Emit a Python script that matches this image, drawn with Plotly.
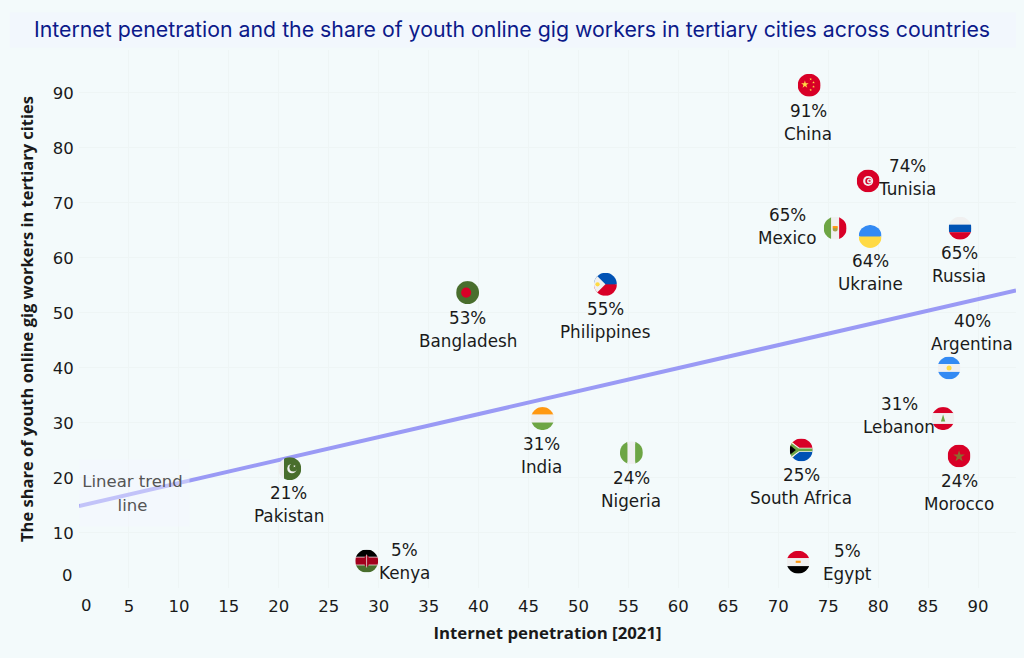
import base64
import plotly.graph_objects as go

countries = ["China", "Tunisia", "Mexico", "Ukraine", "Russia", "Bangladesh", "Philippines", "Argentina",
             "Lebanon", "Morocco", "India", "Nigeria", "South Africa", "Pakistan", "Kenya", "Egypt"]
penetration = [73.1, 79.0, 75.7, 79.2, 88.2, 38.9, 52.7, 87.1, 86.5, 88.1, 46.4, 55.3, 72.3, 21.1, 28.8, 72.0]
gig_share = [91.4, 74.0, 65.4, 63.9, 65.4, 53.7, 55.2, 40.0, 30.8, 24.0, 30.8, 24.6, 25.1, 21.7, 4.9, 4.7]
share_labels = ["91%", "74%", "65%", "64%", "65%", "53%", "55%", "40%", "31%", "24%", "31%", "24%", "25%", "21%", "5%", "5%"]
base_colors = ["#d80027", "#d80027", "#f0f0f0", "#338af3", "#f0f0f0", "#496e2d", "#0052b4", "#f0f0f0",
               "#f0f0f0", "#d80027", "#f0f0f0", "#6da544", "#6da544", "#496e2d", "#a2001d", "#f0f0f0"]
trend_x = [0, 93.8]
trend_y = [14.9, 54.1]
x_ticks = [5, 10, 15, 20, 25, 30, 35, 40, 45, 50, 55, 60, 65, 70, 75, 80, 85, 90]
y_ticks = [10, 20, 30, 40, 50, 60, 70, 80, 90]

# where each label block sits relative to its flag, in pixels (right, down)
label_offset = {
    "China": (-1, 37), "Tunisia": (39, -3), "Mexico": (-48, -2), "Ukraine": (0, 36), "Russia": (-1, 36),
    "Bangladesh": (0, 37), "Philippines": (0, 36), "Argentina": (23, -35), "Lebanon": (-44, -3),
    "Morocco": (0, 37), "India": (-1, 37), "Nigeria": (0, 37), "South Africa": (0, 37), "Pakistan": (-1, 36),
    "Kenya": (38, 0), "Egypt": (49, 0),
}

WHITE = "#f0f0f0"
RED = "#d80027"
GREEN = "#6da544"
DARK = "#496e2d"
BLUE = "#338af3"


def star(cx, cy, r, color):
    pts = []
    for dx, dy in [(0, -1), (.225, -.309), (.951, -.309), (.363, .118), (.588, .809),
                   (0, .382), (-.588, .809), (-.363, .118), (-.951, -.309), (-.225, -.309)]:
        pts.append(f"{cx + dx * r:.1f},{cy + dy * r:.1f}")
    return f'<polygon points="{" ".join(pts)}" fill="{color}"/>'


def rect(x, y, w, h, color):
    return f'<rect x="{x}" y="{y}" width="{w}" height="{h}" fill="{color}"/>'


def circle(cx, cy, r, color):
    return f'<circle cx="{cx}" cy="{cy}" r="{r}" fill="{color}"/>'


flags = {
    "China": rect(0, 0, 64, 64, RED) + star(20, 30, 11, "#ffda44") + star(36, 15, 4, "#ffda44")
    + star(44, 24, 4, "#ffda44") + star(44, 36, 4, "#ffda44") + star(36, 45, 4, "#ffda44"),
    "Tunisia": rect(0, 0, 64, 64, RED) + circle(32, 32, 14, WHITE) + circle(33, 32, 9, RED)
    + circle(36, 32, 7, WHITE) + star(36, 32, 5, RED),
    "Mexico": rect(0, 0, 21, 64, GREEN) + rect(21, 0, 22, 64, WHITE) + rect(43, 0, 21, 64, RED)
    + circle(32, 34, 7, "#a8a04a") + rect(25, 26, 14, 6, "#ff9811"),
    "Ukraine": rect(0, 0, 64, 32, BLUE) + rect(0, 32, 64, 32, "#ffda44"),
    "Russia": rect(0, 0, 64, 22, WHITE) + rect(0, 22, 64, 21, "#0052b4") + rect(0, 43, 64, 21, RED),
    "Bangladesh": rect(0, 0, 64, 64, DARK) + circle(28, 32, 14, RED),
    "Philippines": rect(0, 0, 64, 32, "#0052b4") + rect(0, 32, 64, 32, RED)
    + '<polygon points="0,0 32,32 0,64" fill="#f0f0f0"/>' + circle(10, 32, 6, "#ffda44"),
    "Argentina": rect(0, 0, 64, 21, BLUE) + rect(0, 21, 64, 22, WHITE) + rect(0, 43, 64, 21, BLUE)
    + circle(32, 32, 7, "#ffda44"),
    "Lebanon": rect(0, 0, 64, 17, RED) + rect(0, 17, 64, 30, WHITE) + rect(0, 47, 64, 17, RED)
    + '<polygon points="32,21 38,40 26,40" fill="#6da544"/>',
    "Morocco": rect(0, 0, 64, 64, RED) + star(32, 33, 17, "#8a6d2f"),
    "India": rect(0, 0, 64, 21, "#ff9811") + rect(0, 21, 64, 22, WHITE) + rect(0, 43, 64, 21, GREEN),
    "Nigeria": rect(0, 0, 21, 64, GREEN) + rect(21, 0, 22, 64, WHITE) + rect(43, 0, 21, 64, GREEN),
    "South Africa": rect(0, 0, 64, 32, RED) + rect(0, 32, 64, 32, "#0052b4")
    + '<polygon points="0,0 26,32 0,64" fill="#ffda44"/>'
    + '<path d="M0,6 L27,26 H64 V38 H27 L0,58 Z" fill="#f0f0f0"/>'
    + '<path d="M0,10 L25,28 H64 V36 H25 L0,54 Z" fill="#6da544"/>'
    + '<polygon points="0,18 17,32 0,46" fill="#000"/>',
    "Pakistan": rect(0, 0, 16, 64, WHITE) + rect(16, 0, 48, 64, DARK) + circle(38, 32, 13, WHITE)
    + circle(42, 29, 11, DARK) + star(45, 25, 4, WHITE),
    "Kenya": rect(0, 0, 64, 21, "#000") + rect(0, 21, 64, 22, "#a2001d") + rect(0, 43, 64, 21, DARK)
    + rect(0, 20, 64, 2, WHITE) + rect(0, 42, 64, 2, WHITE)
    + '<ellipse cx="32" cy="32" rx="7" ry="17" fill="#a2001d"/>' + rect(31, 14, 2, 36, WHITE),
    "Egypt": rect(0, 0, 64, 21, RED) + rect(0, 21, 64, 22, WHITE) + rect(0, 43, 64, 21, "#000")
    + rect(25, 28, 14, 6, "#ff9811"),
}


def flag_uri(name):
    svg = ('<svg xmlns="http://www.w3.org/2000/svg" width="64" height="64" viewBox="0 0 64 64">'
           '<defs><clipPath id="c"><circle cx="32" cy="32" r="32"/></clipPath></defs>'
           f'<g clip-path="url(#c)">{flags[name]}</g></svg>')
    return "data:image/svg+xml;base64," + base64.b64encode(svg.encode()).decode()


text_font = "DejaVu Sans"
bold_font = "Open Sans"

fig = go.Figure()

fig.add_trace(go.Scatter(
    x=trend_x,
    y=trend_y,
    mode="lines",
    line=dict(color="#9a9af5", width=4),
    name="Linear trend line",
    showlegend=False,
))

fig.add_trace(go.Scatter(
    x=penetration,
    y=gig_share,
    mode="markers",
    marker=dict(size=20, color=base_colors),
    text=countries,
    showlegend=False,
))

# flags sit on top of the markers, placed by the data axes
images = []
for name, px, py in zip(countries, penetration, gig_share):
    images.append(dict(
        source=flag_uri(name), xref="x", yref="y", x=px, y=py,
        sizex=2.3, sizey=4.2, xanchor="center", yanchor="middle",
        sizing="contain", layer="above",
    ))

annotations = []
for name, px, py, share in zip(countries, penetration, gig_share, share_labels):
    dx, dy = label_offset[name]
    for txt, shift in ((share, -11.5), (name, 11.5)):
        annotations.append(dict(
            x=px, y=py, xref="x", yref="y", text=txt, showarrow=False,
            xshift=dx, yshift=-(dy + shift),
            font=dict(family=text_font, size=16.8, color="#1a1a1a"),
        ))

# trend line caption: a pale box that washes out the line, then the two lines of text
annotations.append(dict(
    x=0, y=17.3, xref="x", yref="y", xanchor="left", showarrow=False, width=107, height=64,
    text=" ", bgcolor="rgba(243,247,254,0.45)",
))
for txt, shift in (("Linear trend", 11), ("line", -13)):
    annotations.append(dict(
        x=0, y=17.3, xref="x", yref="y", xanchor="left", xshift=-2, yshift=shift, showarrow=False, width=107,
        text=txt, align="center", font=dict(family=text_font, size=16.5, color="#555555"),
    ))

# the two zero labels sit off their gridlines, clear of the axis corner
annotations.append(dict(x=0, y=0, xref="x", yref="paper", text="0", showarrow=False, yanchor="top",
                        xshift=7, yshift=-6, font=dict(family=text_font, size=16.5, color="#1a1a1a")))
annotations.append(dict(x=0, y=0, xref="paper", yref="y", text="0", showarrow=False, xanchor="right",
                        xshift=-4, yshift=13, font=dict(family=text_font, size=16.5, color="#1a1a1a")))

fig.update_layout(
    width=1024,
    height=658,
    margin=dict(l=79, r=8, t=50, b=70),
    paper_bgcolor="#f3fafb",
    plot_bgcolor="#f3fafb",
    hovermode="closest",
    title=dict(
        text="Internet penetration and the share of youth online gig workers in tertiary cities across countries",
        x=0.5, xanchor="center", y=0.955, yanchor="middle",
        font=dict(family="Inter", size=21.3, color="#0c1a8a"),
    ),
    xaxis=dict(
        range=[0, 93.8],
        tickmode="array",
        tickvals=x_ticks,
        ticks="outside",
        ticklen=3,
        tickcolor="rgba(0,0,0,0)",
        tickfont=dict(family=text_font, size=16.5, color="#1a1a1a"),
        showgrid=True,
        gridcolor="#eef5f5",
        zeroline=False,
        title=dict(text="<b>Internet penetration [2021]</b>", standoff=12,
                   font=dict(family=bold_font, size=16.8, color="#1a1a1a")),
    ),
    yaxis=dict(
        range=[0, 97.8],
        tickmode="array",
        tickvals=y_ticks,
        ticks="outside",
        ticklen=1,
        tickcolor="rgba(0,0,0,0)",
        tickfont=dict(family=text_font, size=16.5, color="#1a1a1a"),
        showgrid=True,
        gridcolor="#eef5f5",
        zeroline=False,
        title=dict(text="<b>The share of youth online gig workers in tertiary cities</b>", standoff=14,
                   font=dict(family=bold_font, size=16.5, color="#1a1a1a")),
    ),
    shapes=[dict(type="rect", xref="paper", yref="paper", layer="below",
                 x0=-0.074, x1=1.0, y0=1.004, y1=1.07, line_width=0, fillcolor="#f2f7fd")],
    images=images,
    annotations=annotations,
)

fig.write_html("out.html", config={"displayModeBar": False}, post_script="document.body.style.margin='0';")
